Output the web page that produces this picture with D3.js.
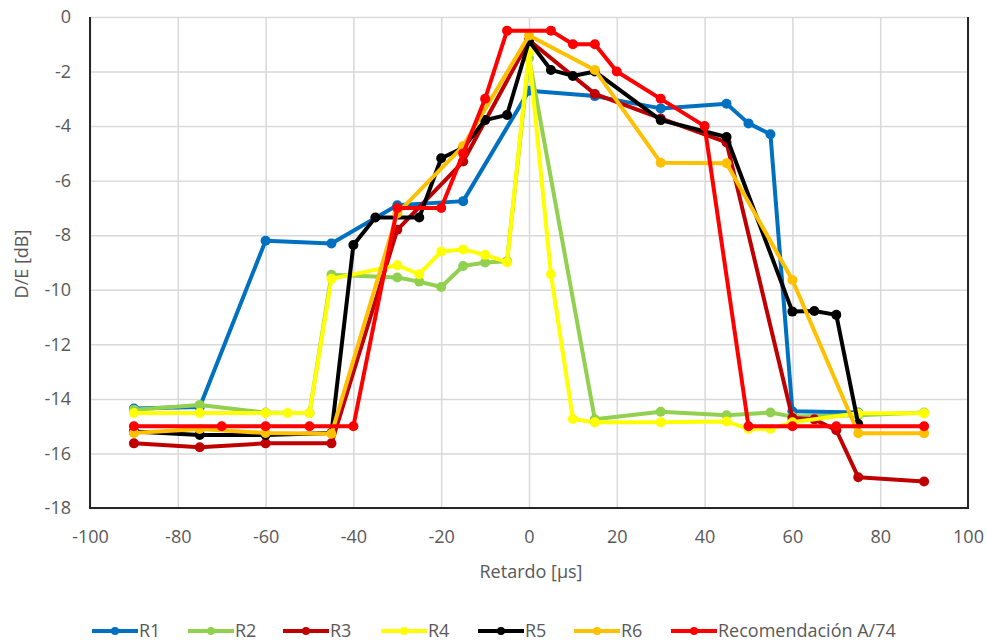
<!DOCTYPE html>
<html>
<head>
<meta charset="utf-8">
<script src="https://cdn.jsdelivr.net/npm/d3@7"></script>
<style>
	body { margin: 0; background: #fff; }
	svg text { font-family: "Open Sans", sans-serif; fill: #595959; }
</style>
</head>
<body>
<div id="chart-wrapper"></div>
<script>
// data: [retardo us, D/E dB]
var r1 = [[-90,-14.35],[-75,-14.3],[-60,-8.2],[-45,-8.3],[-30,-6.9],[-15,-6.75],[0,-2.7],[15,-2.9],
	[30,-3.35],[45,-3.18],[50,-3.9],[55,-4.3],[60,-14.45],[75,-14.5]];
var r2 = [[-90,-14.4],[-75,-14.22],[-60,-14.5],[-50,-14.52],[-45,-9.45],[-30,-9.55],[-25,-9.7],[-20,-9.9],[-15,-9.13],
	[-10,-9.0],[-5,-8.95],[0,-1.5],[15,-14.75],[30,-14.47],[45,-14.6],[55,-14.5],[60,-14.65],[75,-14.6],[90,-14.5]];
var r3 = [[-90,-15.63],[-75,-15.77],[-60,-15.63],[-45,-15.63],[-30,-7.8],[-15,-5.3],[0,-0.85],[15,-2.82],
	[30,-3.72],[45,-4.6],[60,-14.7],[65,-14.75],[70,-15.15],[75,-16.87],[90,-17.03]];
var r4 = [[-90,-14.52],[-75,-14.52],[-60,-14.52],[-55,-14.52],[-50,-14.52],[-45,-9.6],[-30,-9.1],[-25,-9.43],
	[-20,-8.6],[-15,-8.52],[-10,-8.72],[-5,-8.99],[0,-1.3],[5,-9.43],[10,-14.74],[15,-14.86],[30,-14.86],
	[45,-14.83],[50,-15.1],[55,-15.1],[60,-14.86],[75,-14.53],[90,-14.53]];
var r5 = [[-90,-15.2],[-75,-15.32],[-60,-15.32],[-45,-15.25],[-40,-8.36],[-35,-7.35],[-25,-7.35],[-20,-5.18],
	[-15,-4.8],[-10,-3.78],[-5,-3.59],[0,-0.88],[5,-1.94],[10,-2.16],[15,-2.0],[30,-3.78],[45,-4.4],
	[60,-10.8],[65,-10.78],[70,-10.92],[75,-14.92]];
var r6 = [[-90,-15.25],[-75,-15.1],[-60,-15.25],[-45,-15.28],[-30,-7.2],[-15,-4.73],[0,-0.68],[15,-1.94],
	[30,-5.34],[45,-5.36],[60,-9.64],[75,-15.26],[90,-15.26]];
var recA74 = [[-90,-15],[-70,-15],[-60,-15],[-50,-15],[-40,-15],[-30,-7],[-20,-7],[-15,-5],[-10,-3],[-5,-0.5],
	[5,-0.5],[10,-1],[15,-1],[20,-2],[30,-3],[40,-4],[50,-15],[60,-15],[70,-15],[90,-15]];

var seriesNames = ["R1", "R2", "R3", "R4", "R5", "R6", "Recomendación A/74"];
var seriesColors = ["#0070C0", "#92D050", "#C00000", "#FFFF00", "#000000", "#FFC000", "#FF0000"];
var xTicks = [-100, -80, -60, -40, -20, 0, 20, 40, 60, 80, 100];
var yTicks = [0, -2, -4, -6, -8, -10, -12, -14, -16, -18];

var width = 987, height = 644;
var plot = {left: 90, right: 968, top: 17, bottom: 508};

var svg = d3.select("#chart-wrapper").append("svg")
	.attr("width", width)
	.attr("height", height);

var x = d3.scaleLinear().domain([-100, 100]).range([plot.left, plot.right]);
var y = d3.scaleLinear().domain([-18, 0]).range([plot.bottom, plot.top]);

function plainNumber(d){ return String(d); }

// grid
svg.append("g")
	.attr("transform", "translate(0," + plot.bottom + ")")
	.call(d3.axisBottom(x).tickValues(xTicks).tickSize(-(plot.bottom - plot.top)).tickFormat(""))
	.call(function(g){ g.select(".domain").remove(); })
	.selectAll("line").attr("stroke", "#d9d9d9").attr("stroke-width", 1.5);

svg.append("g")
	.attr("transform", "translate(" + plot.left + ",0)")
	.call(d3.axisLeft(y).tickValues(yTicks).tickSize(-(plot.right - plot.left)).tickFormat(""))
	.call(function(g){ g.select(".domain").remove(); })
	.selectAll("line").attr("stroke", "#d9d9d9").attr("stroke-width", 1.5);

// tick labels
svg.append("g")
	.attr("transform", "translate(0," + plot.bottom + ")")
	.call(d3.axisBottom(x).tickValues(xTicks).tickSize(0).tickPadding(22).tickFormat(plainNumber))
	.call(function(g){ g.select(".domain").remove(); })
	.selectAll("text").style("font-size", "18px").style("fill", "#595959").style("font-family", null);

svg.append("g")
	.attr("transform", "translate(" + plot.left + ",0)")
	.call(d3.axisLeft(y).tickValues(yTicks).tickSize(0).tickPadding(19).tickFormat(plainNumber))
	.call(function(g){ g.select(".domain").remove(); })
	.selectAll("text").style("font-size", "18px").style("fill", "#595959").style("font-family", null);

// frame
svg.append("path")
	.attr("d", "M" + plot.left + "," + plot.top + "V" + plot.bottom + "H" + plot.right + "V" + plot.top)
	.attr("fill", "none")
	.attr("stroke", "#262626")
	.attr("stroke-width", 2);

// axis titles
svg.append("text")
	.attr("x", 531)
	.attr("y", 578)
	.style("text-anchor", "middle")
	.style("font-size", "18px")
	.text("Retardo [µs]");

svg.append("text")
	.attr("transform", "translate(28," + 264 + ") rotate(-90)")
	.style("text-anchor", "middle")
	.style("font-size", "18px")
	.text("D/E [dB]");

// series
var allSeries = [r1, r2, r3, r4, r5, r6, recA74];
var line = d3.line().x(function(d){ return x(d[0]); }).y(function(d){ return y(d[1]); });

for (var i = 0; i < allSeries.length; i++) {
	var g = svg.append("g");
	g.append("path")
		.datum(allSeries[i])
		.attr("d", line)
		.attr("fill", "none")
		.attr("stroke", seriesColors[i])
		.attr("stroke-width", 4)
		.attr("stroke-linejoin", "round");
	g.selectAll("circle")
		.data(allSeries[i])
		.enter().append("circle")
		.attr("cx", function(d){ return x(d[0]); })
		.attr("cy", function(d){ return y(d[1]); })
		.attr("r", 5)
		.attr("fill", seriesColors[i]);
}

// legend
var legendX = [92, 188, 283, 381, 478, 574, 671];
var legend = svg.append("g").attr("transform", "translate(0,631)");
for (var k = 0; k < seriesNames.length; k++) {
	legend.append("line")
		.attr("x1", legendX[k]).attr("x2", legendX[k] + 46)
		.attr("y1", 0).attr("y2", 0)
		.attr("stroke", seriesColors[k])
		.attr("stroke-width", 4);
	legend.append("circle")
		.attr("cx", legendX[k] + 23).attr("cy", 0)
		.attr("r", 4)
		.attr("fill", seriesColors[k]);
	legend.append("text")
		.attr("x", legendX[k] + 47)
		.attr("y", 6)
		.style("font-size", "18px")
		.text(seriesNames[k]);
}
</script>
</body>
</html>
